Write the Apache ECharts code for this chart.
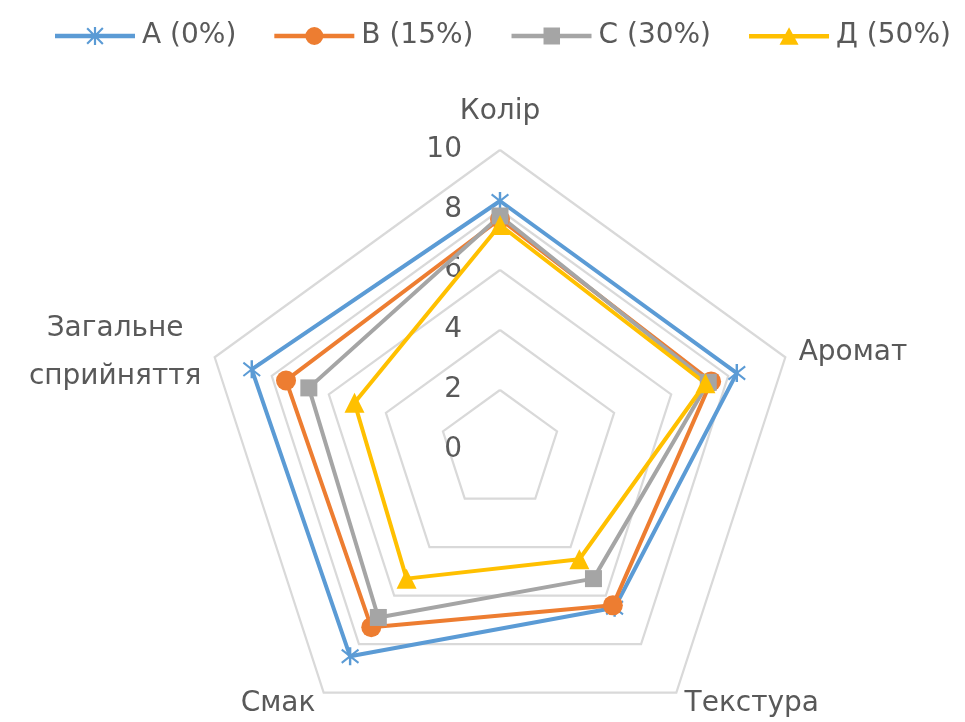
<!DOCTYPE html>
<html>
<head>
<meta charset="utf-8">
<script src="https://cdn.jsdelivr.net/npm/echarts@6/dist/echarts.min.js"></script>
<style>
  html, body { margin: 0; padding: 0; background: #ffffff; }
  #chart { width: 965px; height: 722px; }
</style>
</head>
<body>
<div id="chart"></div>
<script>
// Radar axes, listed counter-clockwise from the top (the order ECharts places them)
const indicators = ['Колір', 'Загальне\nсприйняття', 'Смак', 'Текстура', 'Аромат'];
const axisMax = 10;

// Sample names
const seriesNames = ['А (0%)', 'В (15%)', 'С (30%)', 'Д (50%)'];

// Scores per sample, in the indicator order above
const valuesA = [8.3, 8.7, 8.5, 6.5, 8.3];
const valuesB = [7.7, 7.5, 7.3, 6.4, 7.4];
const valuesC = [7.8, 6.7, 6.9, 5.3, 7.3];
const valuesD = [7.5, 5.1, 5.3, 4.5, 7.2];

const colors = ['#5B9BD5', '#ED7D31', '#A5A5A5', '#FFC000'];
const FONT = '"DejaVu Sans", "Noto Sans", sans-serif';
const TEXT = '#595959';
const FS = 28;

// Marker shapes used on the lines (asterisk drawn as three thin bars)
const starPath = 'path://M8,0 h2 v18 h-2 Z M1.6,3.2 L2.6,1.5 L16.4,14.8 L15.4,16.5 Z M15.4,1.5 L16.4,3.2 L2.6,16.5 L1.6,14.8 Z';
const markers = [starPath, 'circle', 'rect', 'triangle'];
const markerSizes = [18, 20, 17, 20];

// Legend icons: a short line with the marker in its middle (80 x 18 box)
const lineBar = 'M0,6.8 h80 v4.4 h-80 Z ';
const legendIcons = [
  'path://' + lineBar + 'M38.9,0 h2.2 v18 h-2.2 Z M32.9,0.6 L48.6,16.2 L47.1,17.7 L31.4,2.1 Z M47.1,0.3 L48.6,1.8 L32.9,17.4 L31.4,15.9 Z',
  'path://' + lineBar + 'M49,9 A9,9 0 1,1 31,9 A9,9 0 1,1 49,9 Z',
  'path://' + lineBar + 'M32,0.5 h16.5 v17 h-16.5 Z',
  'path://' + lineBar + 'M40,0 L49.5,17.5 L30.5,17.5 Z'
];

const allValues = [valuesA, valuesB, valuesC, valuesD];

const chart = echarts.init(document.getElementById('chart'), null, { renderer: 'canvas' });

// Value labels only along the top (Колір) axis
const indicatorOpts = indicators.map((name, i) => {
  const o = { name: name, min: 0, max: axisMax };
  o.axisLabel = i === 0
    ? { show: true, color: TEXT, fontSize: FS, fontFamily: FONT, margin: 38 }
    : { show: false };
  return o;
});

const option = {
  backgroundColor: '#ffffff',
  animation: false,
  color: colors,
  legend: {
    top: 17,
    left: 50,
    itemWidth: 80,
    itemHeight: 18,
    itemGap: 38,
    textStyle: { color: TEXT, fontSize: FS, fontFamily: FONT, padding: [0, 0, 0, 2] },
    data: seriesNames.map((n, i) => ({ name: n, icon: legendIcons[i] }))
  },
  radar: {
    center: [500, 450],
    radius: 300,
    startAngle: 90,
    shape: 'polygon',
    splitNumber: 5,
    nameGap: 14,
    indicator: indicatorOpts,
    axisName: {
      color: TEXT,
      fontSize: FS,
      fontFamily: FONT,
      formatter: function (name) {
        return name.split('\n').map(s => '{c|' + s + '}').join('\n');
      },
      rich: {
        c: { align: 'center', color: TEXT, fontSize: FS, fontFamily: FONT, lineHeight: 48 }
      }
    },
    axisLine: { show: false },
    axisTick: { show: false },
    axisLabel: { show: false },
    splitLine: { lineStyle: { color: '#D9D9D9', width: 2.2 } },
    splitArea: { show: false }
  },
  series: allValues.map((vals, i) => ({
    type: 'radar',
    name: seriesNames[i],
    symbol: markers[i],
    symbolSize: markerSizes[i],
    lineStyle: { color: colors[i], width: 4 },
    itemStyle: { color: colors[i] },
    data: [{ name: seriesNames[i], value: vals }]
  }))
};

chart.setOption(option);
</script>
</body>
</html>
